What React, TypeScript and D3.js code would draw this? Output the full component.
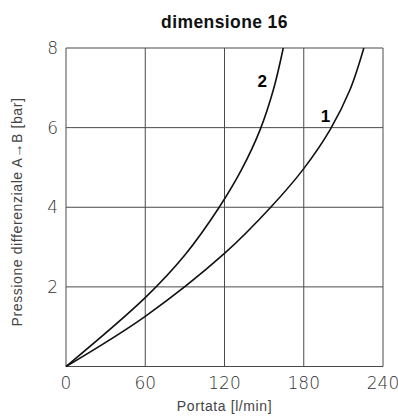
import React from 'react'
import * as d3 from 'd3'

// curve 1
const flow1 = [0, 60, 120, 155, 180, 200, 215, 225.5]
const press1 = [0, 1.26, 2.84, 4, 4.97, 5.95, 6.95, 8]
// curve 2
const flow2 = [0, 60, 90, 116, 133, 147, 157, 164.5]
const press2 = [0, 1.73, 2.8, 4, 4.95, 5.95, 6.95, 8]

const xTicks = [0, 60, 120, 180, 240]
const yTicks = [0, 2, 4, 6, 8]

const curveLabels = [
  { name: '2', x: 148.5, y: 7.15 },
  { name: '1', x: 196.5, y: 6.28 },
]

const title = 'dimensione 16'
const xTitle = 'Portata [l/min]'
const yTitle = 'Pressione differenziale A\u2192B [bar]'

const App = () => {
  const width = 398
  const height = 416
  const margin = { top: 48, left: 66, right: 15, bottom: 49.5 }

  const x = d3.scaleLinear().domain([0, 240]).range([margin.left, width - margin.right])
  const y = d3.scaleLinear().domain([0, 8]).range([height - margin.bottom, margin.top])

  const line = d3.line<[number, number]>()
    .x(d => x(d[0]))
    .y(d => y(d[1]))
    .curve(d3.curveCatmullRom.alpha(0.5))

  const series = [
    flow1.map((f, i) => [f, press1[i]] as [number, number]),
    flow2.map((f, i) => [f, press2[i]] as [number, number]),
  ]

  const tickFont = { fontFamily: '"DejaVu Sans ExtraLight", "DejaVu Sans"', fontWeight: 200, fontSize: 17, fill: '#333' }
  const labelFont = { fontFamily: 'Liberation Sans', fontSize: 14, letterSpacing: 0.6, fill: '#444' }

  return (
    <svg width={width} height={height} style={{ position: 'absolute', left: 0, top: 0 }}>
      <text x={(x(0) + x(240)) / 2} y={27.5} textAnchor="middle"
        style={{ fontFamily: 'Liberation Sans', fontWeight: 700, fontSize: 17.5, letterSpacing: 0.4, fill: '#111' }}>
        {title}
      </text>

      {/* grid */}
      {xTicks.map(t => (
        <line key={`gx-${t}`} x1={x(t)} x2={x(t)} y1={y(0)} y2={y(8)} stroke="#4a4a4a" strokeWidth={1} />
      ))}
      {yTicks.map(t => (
        <line key={`gy-${t}`} x1={x(0)} x2={x(240)} y1={y(t)} y2={y(t)} stroke="#4a4a4a" strokeWidth={1} />
      ))}

      {series.map((s, i) => (
        <path key={`s-${i}`} d={line(s) || ''} fill="none" stroke="#111" strokeWidth={1.6} />
      ))}

      {curveLabels.map(l => (
        <text key={l.name} x={x(l.x)} y={y(l.y)} textAnchor="middle" dominantBaseline="central"
          style={{ fontFamily: 'Liberation Sans', fontWeight: 700, fontSize: 17, fill: '#000' }}>
          {l.name}
        </text>
      ))}

      {xTicks.map(t => (
        <text key={`xt-${t}`} x={x(t)} y={y(0) + 22} textAnchor="middle" style={tickFont}>{t}</text>
      ))}
      {yTicks.filter(t => t > 0).map(t => (
        <text key={`yt-${t}`} x={x(0) - 8} y={y(t)} textAnchor="end" dominantBaseline="central" style={tickFont}>{t}</text>
      ))}

      <text x={(x(0) + x(240)) / 2} y={411} textAnchor="middle" style={labelFont}>
        {xTitle}
      </text>
      <text transform={`translate(21.5, 212) rotate(-90)`} textAnchor="middle" style={labelFont}>
        {yTitle}
      </text>
    </svg>
  )
}

export default App
